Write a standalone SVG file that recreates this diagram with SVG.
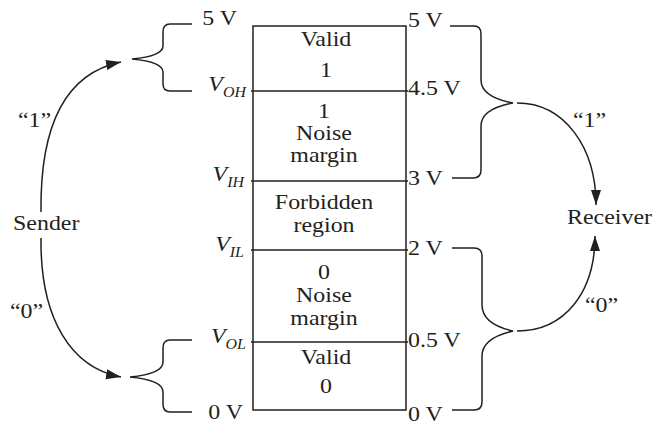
<svg xmlns="http://www.w3.org/2000/svg" width="656" height="421" viewBox="0 0 656 421">
<style>
text{font-family:"Liberation Serif","Times New Roman",serif;font-size:21px;fill:#231f20}
.c{text-anchor:middle}
.e{text-anchor:end}
.i{font-style:italic}
.sub{font-size:14px}
.ln{fill:none;stroke:#231f20;stroke-width:1.5}
</style>
<defs>
<marker id="ah" markerUnits="userSpaceOnUse" markerWidth="16" markerHeight="12" refX="15" refY="5" orient="auto">
<path d="M0,0 L15,5 L0,10 Z" fill="#231f20"/>
</marker>
</defs>
<rect width="656" height="421" fill="#fff"/>
<g id="levels">
<rect class="ln" x="253" y="26" width="153" height="384"/>
<path class="ln" d="M251,91 H408 M251,181 H408 M251,250 H408 M251,342 H408"/>
</g>
<g id="valid1"><text class="c" transform="translate(326,46) scale(1.14,1)">Valid</text><text class="c" transform="translate(326,77) scale(1.14,1)">1</text></g>
<g id="nm1"><text class="c" transform="translate(324,118) scale(1.14,1)">1</text><text class="c" transform="translate(324,140) scale(1.14,1)">Noise</text><text class="c" transform="translate(324,162) scale(1.14,1)">margin</text></g>
<g id="forbidden"><text class="c" transform="translate(324,209) scale(1.14,1)">Forbidden</text><text class="c" transform="translate(324,232) scale(1.14,1)">region</text></g>
<g id="nm0"><text class="c" transform="translate(324,279) scale(1.14,1)">0</text><text class="c" transform="translate(324,302) scale(1.14,1)">Noise</text><text class="c" transform="translate(324,325) scale(1.14,1)">margin</text></g>
<g id="valid0"><text class="c" transform="translate(326,364) scale(1.14,1)">Valid</text><text class="c" transform="translate(326,393) scale(1.14,1)">0</text></g>
<g id="left-labels">
<text class="e" transform="translate(237,25) scale(1.14,1)">5 V</text>
<text class="e i" transform="translate(246,91) scale(1.14,1)">V<tspan class="sub" dy="6">OH</tspan></text>
<text class="e i" transform="translate(244,181) scale(1.14,1)">V<tspan class="sub" dy="6">IH</tspan></text>
<text class="e i" transform="translate(244,251) scale(1.14,1)">V<tspan class="sub" dy="6">IL</tspan></text>
<text class="e i" transform="translate(246,343) scale(1.14,1)">V<tspan class="sub" dy="6">OL</tspan></text>
<text class="e" transform="translate(243,419) scale(1.14,1)">0 V</text>
</g>
<g id="right-labels">
<text transform="translate(408,27) scale(1.14,1)">5 V</text>
<text transform="translate(408,95) scale(1.14,1)">4.5 V</text>
<text transform="translate(408,185) scale(1.14,1)">3 V</text>
<text transform="translate(408,255) scale(1.14,1)">2 V</text>
<text transform="translate(408,347) scale(1.14,1)">0.5 V</text>
<text transform="translate(408,421) scale(1.14,1)">0 V</text>
</g>
<g id="sender"><text transform="translate(13,230) scale(1.14,1)">Sender</text></g>
<g id="receiver"><text transform="translate(567,224) scale(1.14,1)">Receiver</text></g>
<g id="arrow-labels">
<text transform="translate(18,127) scale(1.14,1)">“1”</text>
<text transform="translate(10,318) scale(1.14,1)">“0”</text>
<text transform="translate(573,127) scale(1.14,1)">“1”</text>
<text transform="translate(585,312) scale(1.14,1)">“0”</text>
</g>
<g id="connectors">
<path class="ln" d="M192,24 H170 Q163,24 163,32 V46 Q163,56 132,59 Q163,62 163,72 V84 Q163,91 170,91 H192"/>
<path class="ln" d="M192,340 H170 Q163,340 163,348 V362 Q163,374 130,377 Q163,380 163,392 V404 Q163,412 170,412 H192"/>
<path class="ln" d="M450,26 H474 Q481,26 481,34 V80 Q481,97 513,103 Q481,109 481,126 V170 Q481,178 473,178 H452"/>
<path class="ln" d="M452,248 H474 Q482,248 482,256 V305 Q482,324 513,331 Q482,338 482,356 V402 Q482,410 474,410 H452"/>
<path class="ln" d="M41,212 C40,130 62,74 121,62" marker-end="url(#ah)"/>
<path class="ln" d="M41,238 C40,320 72,368 121,377" marker-end="url(#ah)"/>
<path class="ln" d="M517,103 C565,103 596,148 596,205" marker-end="url(#ah)"/>
<path class="ln" d="M517,331 C565,331 595,292 595,236" marker-end="url(#ah)"/>
</g>
</svg>
